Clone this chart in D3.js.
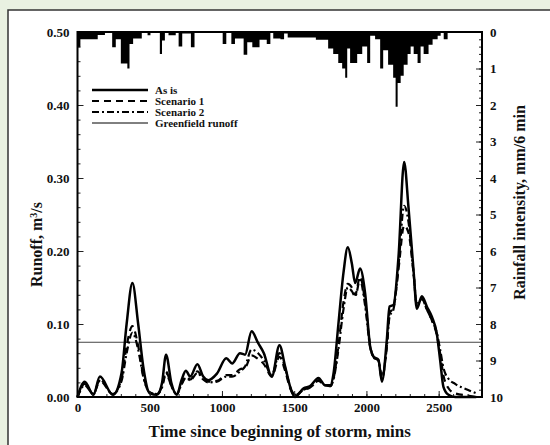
<!DOCTYPE html>
<html>
<head>
<meta charset="utf-8">
<script src="https://cdn.jsdelivr.net/npm/d3@7"></script>
<style>
  html, body { margin: 0; padding: 0; background: #e9f1e1; }
  svg { display: block; }
  text { font-family: "Liberation Serif", "DejaVu Serif", serif; font-weight: bold; fill: #111; }
</style>
</head>
<body>
<div id="chart"></div>
<script>
// ── Data ─────────────────────────────────────────────────────────────────────

// runoff sample times (mins)
const times = [0, 50, 110, 155, 245, 305, 340, 380, 420, 455, 500, 550, 585, 613, 650, 687, 720, 750, 780, 830,
  870, 905, 965, 1030, 1070, 1125, 1160, 1205, 1250, 1290, 1345, 1398, 1437, 1472, 1505, 1565, 1610, 1668, 1714, 1750,
  1772, 1806, 1841, 1871, 1899, 1922, 1956, 1991, 2026, 2050, 2083, 2107, 2141, 2160, 2187, 2222, 2261, 2291, 2326, 2349,
  2384, 2418, 2453, 2487, 2510, 2533, 2568, 2614, 2700, 2760];

const asIs = [0, 0.021, 0.003, 0.028, 0.003, 0.033, 0.1, 0.156, 0.1, 0.042, 0.005, 0.003, 0.019, 0.058, 0.019, 0.003, 0.023, 0.036, 0.028, 0.045,
  0.028, 0.023, 0.032, 0.053, 0.046, 0.06, 0.058, 0.09, 0.074, 0.06, 0.028, 0.071, 0.042, 0.014, 0.0, 0.012, 0.015, 0.026, 0.016, 0.016,
  0.032, 0.1, 0.17, 0.205, 0.183, 0.156, 0.176, 0.142, 0.069, 0.055, 0.051, 0.021, 0.078, 0.124, 0.126, 0.192, 0.322, 0.26, 0.174, 0.121,
  0.138, 0.124, 0.11, 0.087, 0.051, 0.014, 0.003, 0, 0, 0];

const scenario1 = [0, 0.018, 0.004, 0.024, 0.004, 0.025, 0.07, 0.097, 0.07, 0.03, 0.006, 0.004, 0.015, 0.035, 0.015, 0.004, 0.018, 0.028, 0.024, 0.035,
  0.025, 0.021, 0.022, 0.03, 0.03, 0.038, 0.04, 0.057, 0.052, 0.045, 0.028, 0.055, 0.036, 0.012, 0.002, 0.01, 0.013, 0.023, 0.016, 0.015,
  0.025, 0.07, 0.13, 0.155, 0.15, 0.14, 0.165, 0.13, 0.07, 0.055, 0.05, 0.025, 0.07, 0.115, 0.122, 0.175, 0.235, 0.225, 0.17, 0.125,
  0.135, 0.12, 0.105, 0.085, 0.06, 0.03, 0.012, 0.005, 0.002, 0];

const scenario2 = [0, 0.016, 0.004, 0.022, 0.004, 0.022, 0.06, 0.088, 0.065, 0.028, 0.006, 0.004, 0.013, 0.032, 0.015, 0.004, 0.017, 0.026, 0.023, 0.033,
  0.024, 0.02, 0.021, 0.028, 0.028, 0.035, 0.042, 0.065, 0.06, 0.05, 0.03, 0.06, 0.04, 0.014, 0.003, 0.01, 0.013, 0.022, 0.016, 0.015,
  0.024, 0.065, 0.12, 0.15, 0.145, 0.138, 0.16, 0.125, 0.068, 0.054, 0.05, 0.028, 0.068, 0.11, 0.12, 0.18, 0.262, 0.24, 0.17, 0.128,
  0.134, 0.12, 0.105, 0.088, 0.065, 0.04, 0.025, 0.018, 0.01, 0.005];

const greenfieldRunoff = 0.075;

// rainfall: edges (mins) and intensity (mm/6 min) held until the next edge
const rainEdges = [0, 20, 140, 190, 240, 265, 300, 345, 360, 385, 445, 485, 505, 570, 585, 605, 630, 680, 700, 725,
  785, 810, 1005, 1030, 1065, 1090, 1150, 1175, 1210, 1260, 1310, 1335, 1355, 1405, 1430, 1455, 1650, 1735, 1770, 1805,
  1832, 1853, 1867, 1887, 1936, 1971, 2005, 2026, 2060, 2095, 2116, 2150, 2185, 2202, 2216, 2237, 2258, 2285, 2306, 2327,
  2354, 2375, 2396, 2430, 2458, 2493, 2514, 2535, 2562];

const rainMM = [0.42, 0.2, 0.08, 0, 0.42, 0.2, 0.86, 1.0, 0.33, 0.18, 0, 0.09, 0, 0.6, 0.23, 0, 0.09, 0, 0.4, 0.04,
  0.42, 0, 0.33, 0, 0.33, 0.18, 0.62, 0.28, 0.42, 0.21, 0.33, 0, 0.18, 0.2, 0.04, 0.15, 0.21, 0.45, 0.6, 0.85,
  1.0, 1.25, 0.45, 0.85, 0.6, 0.4, 0.85, 0.1, 0.2, 1.0, 0.5, 0.9, 1.25, 2.05, 1.4, 1.2, 0.9, 0.6, 0.4, 0.6,
  0.85, 0.4, 0.6, 0.35, 0.2, 0.1, 0, 0.2];

const xTicks = [0, 500, 1000, 1500, 2000, 2500];
const yTicks = [0, 0.1, 0.2, 0.3, 0.4, 0.5];
const rainTicks = [0, 1, 2, 3, 4, 5, 6, 7, 8, 9, 10];

const legendItems = [
  { label: "As is", dash: null, width: 2.4 },
  { label: "Scenario 1", dash: "7,5", width: 2.2 },
  { label: "Scenario 2", dash: "7,3,2,3", width: 2.2 },
  { label: "Greenfield runoff", dash: null, width: 1 },
];

// ── Chart ────────────────────────────────────────────────────────────────────

const W = 550, H = 445;
const margin = { top: 32, right: 68, bottom: 48, left: 77.5 };

const svg = d3.select("#chart").append("svg").attr("width", W).attr("height", H);

// white panel with border
svg.append("rect")
  .attr("x", 8).attr("y", 10).attr("width", 600).attr("height", 500)
  .attr("fill", "#fff").attr("stroke", "#333").attr("stroke-width", 1.5);

const x = d3.scaleLinear().domain([0, 2800]).range([margin.left, W - margin.right]);
const y = d3.scaleLinear().domain([0, 0.5]).range([H - margin.bottom, margin.top]);
const yRain = d3.scaleLinear().domain([0, 10]).range([margin.top, H - margin.bottom]);

// rainfall hyetograph hanging from the top, drawn as one stepped area
const rainPts = rainEdges.map((t, i) => ({ t, v: i < rainMM.length ? rainMM[i] : 0 }));
svg.append("path")
  .datum(rainPts)
  .attr("d", d3.area()
    .x((d) => x(d.t))
    .y0(yRain(0))
    .y1((d) => yRain(d.v))
    .curve(d3.curveStepAfter))
  .attr("fill", "#000");

// greenfield line
svg.append("line")
  .attr("x1", x(0)).attr("x2", x(2800))
  .attr("y1", y(greenfieldRunoff)).attr("y2", y(greenfieldRunoff))
  .attr("stroke", "#444").attr("stroke-width", 1);

// runoff series
const line = (vals) => d3.line()
  .x((d, i) => x(times[i]))
  .y((d) => y(d))
  .curve(d3.curveMonotoneX)(vals);

const series = [
  { vals: scenario2, dash: "7,3,2,3", width: 2.2 },
  { vals: scenario1, dash: "7,5", width: 2.2 },
  { vals: asIs, dash: null, width: 2.5 },
];

for (const s of series) {
  svg.append("path")
    .attr("d", line(s.vals))
    .attr("fill", "none")
    .attr("stroke", "#000")
    .attr("stroke-width", s.width)
    .attr("stroke-dasharray", s.dash);
}

// axes (ticks inside)
const bottomAxis = svg.append("g").attr("transform", `translate(0,${y(0)})`)
  .call(d3.axisBottom(x).tickValues(d3.range(0, 2801, 100)).tickSize(-3).tickFormat(""));
bottomAxis.append("g")
  .call(d3.axisBottom(x).tickValues(xTicks).tickSize(-6).tickFormat(d3.format("d")));

const leftAxis = svg.append("g").attr("transform", `translate(${x(0)},0)`)
  .call(d3.axisLeft(y).tickValues(d3.range(0, 0.501, 0.02)).tickSize(-3).tickFormat(""));
leftAxis.append("g")
  .call(d3.axisLeft(y).tickValues(yTicks).tickSize(-6).tickFormat(d3.format(".2f")));

const rightAxis = svg.append("g").attr("transform", `translate(${x(2800)},0)`)
  .call(d3.axisRight(yRain).tickValues(d3.range(0, 10.01, 0.2)).tickSize(-3).tickFormat(""));
rightAxis.append("g")
  .call(d3.axisRight(yRain).tickValues(rainTicks).tickSize(-6).tickFormat(d3.format("d")));

svg.selectAll(".domain").attr("stroke", "none");
svg.selectAll(".tick line").attr("stroke", "#222").attr("stroke-width", 1);
svg.selectAll(".tick text").attr("font-size", 13).attr("font-family", "Liberation Serif, serif")
  .attr("font-weight", "bold").attr("fill", "#111");
bottomAxis.selectAll(".tick text").attr("dy", "0.9em");
leftAxis.selectAll(".tick text").attr("x", -8);
rightAxis.selectAll(".tick text").attr("x", 8);

// plot frame
svg.append("rect")
  .attr("x", x(0)).attr("y", y(0.5))
  .attr("width", x(2800) - x(0)).attr("height", y(0) - y(0.5))
  .attr("fill", "none").attr("stroke", "#000").attr("stroke-width", 2);

// axis titles
svg.append("text")
  .attr("x", (x(0) + x(2800)) / 2).attr("y", 437)
  .attr("text-anchor", "middle").attr("font-size", 17)
  .text("Time since beginning of storm, mins");

svg.append("text")
  .attr("transform", `translate(42,${(y(0) + y(0.5)) / 2 + 30}) rotate(-90)`)
  .attr("text-anchor", "middle").attr("font-size", 16)
  .html("Runoff, m<tspan baseline-shift=\"super\" font-size=\"10\">3</tspan>/s");

svg.append("text")
  .attr("transform", `translate(525,${(y(0) + y(0.5)) / 2 - 12}) rotate(-90)`)
  .attr("text-anchor", "middle").attr("font-size", 16)
  .text("Rainfall intensity, mm/6 min");

// legend
const legend = svg.append("g").attr("transform", "translate(92,90)");
legendItems.forEach((d, i) => {
  const row = legend.append("g").attr("transform", `translate(0,${i * 11})`);
  row.append("line")
    .attr("x1", 0).attr("x2", 56).attr("y1", 0).attr("y2", 0)
    .attr("stroke", "#000").attr("stroke-width", d.width)
    .attr("stroke-dasharray", d.dash);
  row.append("text")
    .attr("x", 63).attr("y", 0).attr("dy", "0.35em")
    .attr("font-size", 11)
    .text(d.label);
});
</script>
</body>
</html>
